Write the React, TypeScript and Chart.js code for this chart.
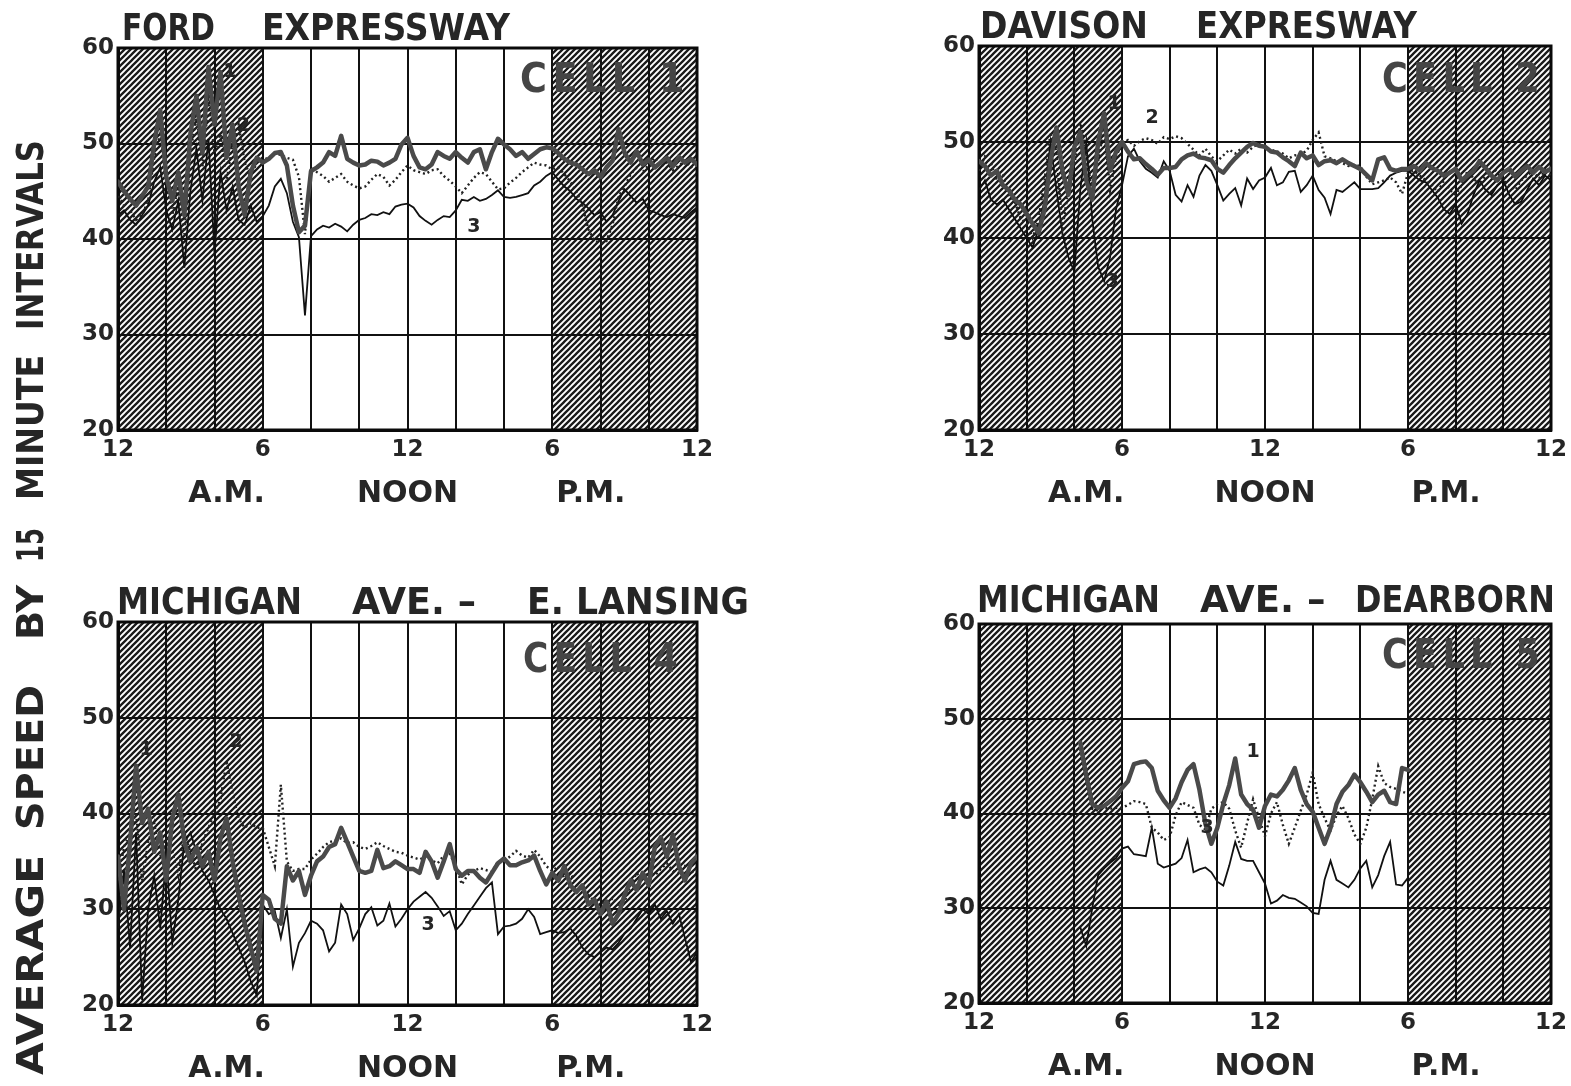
import React, { useEffect, useRef } from 'react';
import { Chart, registerables } from 'chart.js';

Chart.register(...registerables);
Chart.defaults.font.family = "'DejaVu Sans', sans-serif";

// ---------- categories / tick labels ----------
const HOURS: number[] = Array.from({ length: 97 }, (_, i) => i / 4); // 15-minute intervals, 12 A.M. -> 12 P.M.
const X_TICK_LABELS: { [h: number]: string } = { 0: '12', 6: '6', 12: '12', 18: '6', 24: '12' };
const PERIOD_LABELS = ['A.M.', 'NOON', 'P.M.'];
const PERIOD_HOURS = [4.5, 12, 19.6];
const NIGHT_SPANS: [number, number][] = [[0, 6], [18, 24]];
const Y_TITLE_WORDS = ['AVERAGE', 'SPEED', 'BY', '15', 'MINUTE', 'INTERVALS'];
const N = null;

// ---------- Cell 1 : Ford Expressway ----------
const FORD_1 = [
  46.0, 45.0, 44.2, 43.5, 44.5, 45.5, 50.0, 53.5, 46.5, 44.0, 47.0, 42.5, 51.0, 55.0, 49.0, 58.0, 52.0, 57.5, 48.5, 52.0, 45.5, 42.5, 47.0, 48.5,
  48.0, 48.4, 49.0, 49.1, 47.7, 43.5, 40.7, 41.4, 47.1, 47.5, 48.0, 49.1, 48.7, 50.8, 48.4, 48.0, 47.7, 47.8, 48.2, 48.1, 47.7, 48.0, 48.4, 49.9,
  50.6, 48.7, 47.5, 47.3, 47.8, 49.1, 48.7, 48.4, 49.1, 48.5, 48.0, 49.1, 49.4, 47.3, 49.1, 50.5, 49.9, 49.4, 48.7, 49.1, 48.4, 48.9, 49.4, 49.6,
  49.5, 49.0, 48.4, 48.0, 47.8, 47.3, 46.8, 47.2, 46.5, 47.5, 48.2, 51.5, 49.0, 48.0, 49.2, 47.8, 48.3, 47.5, 48.0, 48.5, 47.6, 48.6, 48.0, 48.4, 47.8,
];
const FORD_2 = [
  44.5, 43.5, 43.0, 42.0, 42.5, 44.0, 48.5, 51.0, 47.0, 42.5, 45.5, 40.5, 49.0, 53.0, 47.5, 54.5, 49.0, 51.0, 46.0, 50.0, 52.0, 48.0, 46.5, 48.0,
  48.3, 48.5, 49.0, 48.8, 48.5, 48.3, 46.5, 40.5, 47.5, 47.0, 46.6, 46.0, 46.4, 46.8, 46.0, 45.6, 45.3, 45.5, 46.2, 46.8, 46.5, 45.6, 46.2, 47.0,
  47.7, 47.2, 47.0, 46.8, 47.2, 47.3, 46.6, 46.1, 45.5, 44.8, 45.6, 46.4, 47.0, 46.8, 46.0, 45.2, 45.3, 45.9, 46.4, 47.0, 47.5, 48.0, 47.8, 47.7,
  47.3, 47.5, 46.8, 46.0, 45.0, 43.5, 41.0, 39.8, 39.6, 39.8, 41.5, 44.5, 45.5, 46.8, 47.5, 47.0, 47.8, 48.5, 47.6, 48.0, 47.2, 47.7, 48.2, 47.5, 48.0,
];
const FORD_3 = [
  42.5, 43.0, 42.0, 41.5, 42.5, 43.5, 46.0, 47.5, 43.0, 41.0, 44.0, 37.0, 45.0, 49.5, 44.0, 50.5, 38.5, 47.0, 43.0, 45.5, 42.0, 41.5, 43.5, 41.8,
  42.4, 43.5, 45.5, 46.3, 44.8, 41.8, 40.2, 32.0, 40.3, 41.0, 41.4, 41.2, 41.6, 41.3, 40.8, 41.5, 42.0, 42.2, 42.6, 42.5, 42.8, 42.6, 43.4, 43.6,
  43.7, 43.3, 42.4, 41.9, 41.5, 42.0, 42.4, 42.3, 43.0, 44.1, 44.0, 44.4, 44.0, 44.2, 44.6, 45.1, 44.4, 44.3, 44.4, 44.6, 44.8, 45.6, 46.0, 46.6,
  47.0, 46.2, 45.5, 45.0, 44.2, 43.8, 43.2, 42.5, 42.8, 41.8, 42.5, 44.0, 45.2, 44.5, 43.8, 44.2, 43.0, 42.8, 42.5, 42.3, 42.6, 42.4, 42.2, 42.8, 43.3,
];

// ---------- Cell 2 : Davison Expressway ----------
const DAVISON_1 = [
  48.0, 47.5, 46.5, 47.0, 45.5, 45.0, 44.0, 43.5, 42.5, 41.5, 40.5, 43.0, 48.0, 51.5, 47.0, 44.5, 49.5, 51.0, 46.0, 44.0, 50.0, 53.0, 47.0, 49.0,
  50.0, 49.0, 48.2, 48.3, 47.7, 47.2, 46.6, 47.3, 47.3, 47.4, 48.2, 48.6, 48.8, 48.4, 48.3, 48.1, 47.2, 46.8, 47.6, 48.3, 48.9, 49.5, 49.9, 49.6,
  49.5, 49.0, 48.9, 48.4, 48.0, 47.5, 48.9, 48.3, 48.6, 47.6, 48.0, 48.1, 47.8, 48.2, 47.8, 47.5, 47.2, 46.6, 46.0, 48.2, 48.4, 47.2, 47.0, 47.2,
  47.2, 47.5, 47.0, 47.8, 47.3, 47.0, 46.5, 46.8, 47.2, 46.0, 46.5, 47.0, 48.0, 47.3, 46.5, 46.0, 46.8, 47.2, 46.4, 47.0, 47.5, 46.8, 47.4, 46.9, 47.2,
];
const DAVISON_2 = [
  47.0, 48.5, 47.8, 46.0, 46.5, 44.5, 43.8, 42.0, 41.5, 40.0, 42.0, 46.0, 51.0, 49.0, 41.0, 45.0, 47.5, 52.0, 49.0, 44.5, 48.0, 51.5, 45.0, 48.5,
  49.8, 50.2, 49.6, 50.1, 50.4, 50.2, 49.8, 50.5, 50.3, 50.6, 50.4, 49.8, 49.2, 48.6, 49.3, 48.5, 48.0, 48.6, 49.2, 48.8, 49.3, 48.9, 49.5, 49.8,
  49.4, 49.2, 49.0, 48.8, 48.3, 48.6, 48.7, 49.1, 50.2, 51.0, 48.5, 48.3, 48.0, 47.8, 47.5, 47.6, 47.5, 46.4, 45.6, 45.8, 46.0, 46.3, 45.8, 44.6,
  46.8, 47.0, 46.5, 46.0, 45.5, 44.8, 46.0, 45.0, 44.5, 45.5, 47.0, 46.2, 45.5, 46.5, 47.5, 46.8, 46.0, 45.5, 45.0, 46.0, 46.5, 47.0, 46.2, 47.0, 46.5,
];
const DAVISON_3 = [
  45.0, 46.0, 44.0, 43.5, 44.0, 43.0, 42.0, 41.0, 40.0, 39.0, 41.0, 44.0, 50.0, 45.0, 40.5, 38.0, 36.5, 45.0, 50.0, 42.0, 37.0, 35.5, 38.0, 43.0,
  45.5, 48.5, 49.3, 48.0, 47.2, 46.8, 46.3, 48.0, 47.0, 44.5, 43.8, 45.5, 44.3, 46.5, 47.6, 47.0, 45.5, 43.9, 44.6, 45.2, 43.4, 46.2, 45.1, 46.0,
  46.3, 47.3, 45.5, 45.8, 46.9, 47.0, 44.8, 45.5, 46.5, 45.0, 44.2, 42.5, 45.0, 44.8, 45.3, 45.8, 45.1, 45.1, 45.1, 45.2, 45.8, 46.5, 46.8, 47.0,
  47.0, 46.5, 46.0, 45.8, 45.0, 44.2, 43.0, 42.5, 43.5, 41.5, 42.5, 44.5, 46.0, 45.0, 44.5, 45.5, 46.0, 44.5, 43.5, 43.8, 45.0, 46.2, 45.5, 46.5, 46.0,
];

// ---------- Cell 4 : Michigan Ave. - E. Lansing ----------
const LANSING_1 = [
  35.5, 30.0, 37.0, 45.0, 39.0, 40.5, 36.0, 38.0, 33.0, 39.5, 42.0, 37.0, 35.0, 36.5, 34.5, 36.0, 33.0, 37.5, 39.5, 35.0, 31.5, 28.5, 26.0, 23.5,
  31.5, 31.0, 29.0, 28.5, 34.5, 33.0, 34.0, 31.5, 33.5, 35.0, 35.5, 36.5, 36.8, 38.5, 37.0, 35.5, 34.0, 33.8, 34.0, 36.2, 34.3, 34.5, 35.0, 34.6,
  34.2, 34.2, 33.8, 36.0, 35.0, 33.3, 35.0, 36.8, 34.2, 33.5, 34.0, 34.0, 33.3, 32.8, 33.8, 34.8, 35.3, 34.6, 34.6, 34.9, 35.1, 35.6, 34.0, 32.6,
  33.8, 33.0, 34.5, 32.5, 31.8, 32.5, 30.5, 31.0, 29.5, 30.8, 28.5, 29.5, 31.5, 33.0, 32.0, 33.8, 32.5, 36.5, 37.5, 35.5, 37.8, 34.5, 33.0, 34.8, 35.5,
];
const LANSING_2 = [
  33.0, 36.5, 38.0, 40.0, 33.0, 37.0, 39.0, 35.5, 37.5, 36.0, 33.5, 38.0, 36.0, 34.0, 37.0, 38.5, 40.0, 41.5, 45.5, 42.0, 39.5, 38.5, 39.0, 38.5,
  38.5, 36.5, 34.5, 43.0, 35.0, 34.0, 34.2, 34.2, 35.2, 35.8, 36.5, 37.0, 37.2, 37.4, 36.9, 37.0, 36.5, 36.3, 36.6, 37.0, 36.6, 36.3, 36.0, 35.9,
  35.6, 35.4, 35.2, 35.5, 35.1, 34.8, 35.6, 35.8, 34.5, 32.6, 33.6, 34.0, 34.3, 34.1, 33.9, 35.0, 35.1, 35.5, 36.1, 35.6, 35.4, 36.2, 35.5, 34.5,
  34.0, 34.5, 33.2, 33.8, 32.6, 32.0, 31.5, 30.8, 31.0, 30.2, 31.2, 30.5, 30.8, 32.5, 33.8, 33.0, 34.0, 33.5, 34.2, 34.8, 34.0, 33.8, 34.5, 33.8, 34.2,
];
const LANSING_3 = [
  28.0, 34.0, 26.0, 38.0, 20.5, 30.0, 33.5, 28.0, 35.5, 26.5, 31.0, 37.0, 38.0, 36.0, 34.0, 33.0, 31.5, 30.0, 29.0, 27.5, 26.0, 24.5, 22.5, 21.0,
  30.5, 29.5, 29.8, 27.0, 30.0, 24.0, 26.5, 27.5, 28.8, 28.5, 27.8, 25.6, 26.5, 30.5, 29.5, 26.8, 28.0, 29.5, 30.2, 28.3, 28.8, 30.6, 28.2, 29.0,
  30.0, 30.8, 31.3, 31.8, 31.2, 30.3, 29.3, 29.8, 27.8, 28.5, 29.5, 30.4, 31.3, 32.2, 32.8, 27.4, 28.2, 28.3, 28.5, 29.0, 30.0, 29.2, 27.4, 27.6,
  27.8, 27.5, 27.6, 28.0, 27.2, 26.0, 25.3, 25.0, 25.5, 26.0, 25.8, 26.5, 27.5, 28.0, 29.0, 30.0, 29.5, 30.5, 29.0, 29.8, 28.5, 29.5, 27.0, 24.5, 25.5,
];

// ---------- Cell 5 : Michigan Ave. - Dearborn ----------
const DEARBORN_1 = [
  N, N, N, N, N, N, N, N, N, N, N, N, N, N, N, N, N, 47.5, 44.0, 41.0, 40.6, 40.8, 41.3, 41.8,
  42.7, 43.4, 45.2, 45.4, 45.5, 44.8, 42.4, 41.4, 40.6, 41.6, 43.3, 44.6, 45.2, 42.5, 38.9, 36.8, 38.5, 41.0, 43.0, 45.8, 42.0, 41.0, 40.4, 38.5,
  40.8, 42.0, 41.8, 42.5, 43.5, 44.8, 42.5, 41.0, 40.2, 38.5, 36.8, 38.5, 41.0, 42.3, 43.0, 44.1, 43.3, 42.3, 41.2, 42.0, 42.4, 41.2, 41.0, 44.8,
  44.6, N, N, N, N, N, N, N, N, N, N, N, N, N, N, N, N, N, N, N, N, N, N, N, N,
];
const DEARBORN_2 = [
  N, N, N, N, N, N, N, N, N, N, N, N, N, N, N, N, N, 46.8, 44.0, 40.5, 40.3, 40.6, 40.5, 40.6,
  40.6, 40.9, 41.3, 41.2, 41.0, 38.5, 38.0, 37.2, 37.5, 39.8, 41.2, 40.9, 40.6, 38.8, 38.3, 40.5, 41.0, 41.2, 40.5, 38.2, 36.4, 39.0, 41.5, 39.5,
  37.6, 40.0, 41.2, 38.8, 36.8, 38.5, 40.3, 42.0, 44.3, 41.0, 39.5, 38.2, 39.8, 40.8, 39.5, 37.8, 36.8, 38.5, 41.5, 45.0, 43.2, 42.8, 42.6, 42.3,
  42.1, N, N, N, N, N, N, N, N, N, N, N, N, N, N, N, N, N, N, N, N, N, N, N, N,
];
const DEARBORN_3 = [
  N, N, N, N, N, N, N, N, N, N, N, N, N, N, N, N, N, 28.0, 26.0, 30.0, 33.5, 34.2, 34.8, 35.3,
  36.3, 36.5, 35.7, 35.6, 35.5, 38.5, 34.7, 34.3, 34.5, 34.7, 35.3, 37.2, 33.8, 34.1, 34.3, 33.8, 32.8, 32.4, 34.5, 37.0, 35.2, 35.0, 35.0, 33.8,
  32.6, 30.5, 30.8, 31.4, 31.1, 31.0, 30.6, 30.2, 29.5, 29.4, 33.0, 35.0, 33.0, 32.6, 32.2, 33.0, 34.2, 35.0, 32.2, 33.5, 35.5, 37.0, 32.5, 32.4,
  33.2, N, N, N, N, N, N, N, N, N, N, N, N, N, N, N, N, N, N, N, N, N, N, N, N,
];

// ---------- layout / styling ----------
const SERIES_STYLES = [
  { borderColor: '#4a4a4a', borderWidth: 4.5, borderJoinStyle: 'round', borderCapStyle: 'round' },
  { borderColor: '#222222', borderWidth: 2.4, borderDash: [2, 3] },
  { borderColor: '#111111', borderWidth: 1.8 },
];
const TEXT_COLOR = '#262626';
const Y_TITLE_X = 31;
// vertical extent (page y, bottom..top) of each word of the rotated axis title
const Y_TITLE_SPANS: [number, number][] = [[1075, 855], [830, 685], [640, 585], [562, 528], [500, 355], [330, 140]];

interface PanelCfg {
  key: string;
  plot: { left: number; top: number; width: number; height: number };
  padRight: number;
  titles: [string, number, number][]; // text, dx from plot left, width
  titleDy: number;
  cell: [string, number, number, number]; // text, dx, baseline dy, width
  series: (number | null)[][];
  marks: [string, number, number][]; // text, hour, mph
}

const PANELS: PanelCfg[] = [
  {
    key: 'ford',
    plot: { left: 118, top: 48, width: 579, height: 382 },
    padRight: 65,
    titles: [['FORD', 4, 93], ['EXPRESSWAY', 144, 248]],
    titleDy: -8,
    cell: ['CELL 1', 402, 44, 170],
    series: [FORD_1, FORD_2, FORD_3],
    marks: [['1', 4.64, 57.5], ['2', 5.2, 51.8], ['3', 14.75, 41.3]],
  },
  {
    key: 'davison',
    plot: { left: 979, top: 46, width: 572, height: 384 },
    padRight: 24,
    titles: [['DAVISON', 1, 168], ['EXPRESWAY', 217, 221]],
    titleDy: -8,
    cell: ['CELL 2', 403, 46, 163],
    series: [DAVISON_1, DAVISON_2, DAVISON_3],
    marks: [['1', 5.67, 53.9], ['2', 7.26, 52.5], ['3', 5.6, 35.4]],
  },
  {
    key: 'lansing',
    plot: { left: 118, top: 622, width: 579, height: 383 },
    padRight: 65,
    titles: [['MICHIGAN', -1, 185], ['AVE. \u2013', 234, 124], ['E. LANSING', 409, 222]],
    titleDy: -8,
    cell: ['CELL 4', 405, 50, 160],
    series: [LANSING_1, LANSING_2, LANSING_3],
    marks: [['1', 1.17, 46.6], ['2', 4.9, 47.5], ['3', 12.85, 28.4]],
  },
  {
    key: 'dearborn',
    plot: { left: 979, top: 624, width: 572, height: 379 },
    padRight: 24,
    titles: [['MICHIGAN', -2, 183], ['AVE. \u2013', 221, 130], ['DEARBORN', 376, 200]],
    titleDy: -12,
    cell: ['CELL 5', 403, 44, 163],
    series: [DEARBORN_1, DEARBORN_2, DEARBORN_3],
    marks: [['1', 11.5, 46.5], ['3', 9.57, 38.5]],
  },
];

const Y_AXIS_W = 60;
const PAD_LEFT = 10;
const X_AXIS_H = 78;

function makeHatch(): CanvasPattern | string {
  const s = 6;
  const c = document.createElement('canvas');
  c.width = s;
  c.height = s;
  const g = c.getContext('2d');
  if (!g) return '#888';
  g.fillStyle = '#ffffff';
  g.fillRect(0, 0, s, s);
  g.strokeStyle = '#1a1a1a';
  g.lineWidth = 2.3;
  g.beginPath();
  g.moveTo(-1, s + 1);
  g.lineTo(s + 1, -1);
  g.moveTo(-1, 1);
  g.lineTo(1, -1);
  g.moveTo(s - 1, s + 1);
  g.lineTo(s + 1, s - 1);
  g.stroke();
  const pat = g.createPattern(c, 'repeat');
  return pat || '#888';
}

function Panel({ cfg }: { cfg: PanelCfg }) {
  const ref = useRef<HTMLCanvasElement | null>(null);
  const padT = Math.min(48, cfg.plot.top);
  const cLeft = cfg.plot.left - Y_AXIS_W - PAD_LEFT;
  const cTop = cfg.plot.top - padT;
  const cW = Y_AXIS_W + PAD_LEFT + cfg.plot.width + cfg.padRight;
  const cH = padT + cfg.plot.height + X_AXIS_H;

  useEffect(() => {
    const canvas = ref.current;
    if (!canvas) return;
    const hatch = makeHatch();

    const decor = {
      id: 'decor_' + cfg.key,
      beforeDraw(chart: any) {
        const { ctx, chartArea: a } = chart;
        const x = chart.scales.x;
        ctx.save();
        ctx.fillStyle = '#ffffff';
        ctx.fillRect(0, 0, chart.width, chart.height);
        ctx.fillStyle = hatch;
        for (const [h0, h1] of NIGHT_SPANS) {
          const x0 = x.getPixelForValue(h0);
          const x1 = x.getPixelForValue(h1);
          ctx.fillRect(x0, a.top, x1 - x0, a.bottom - a.top);
        }
        ctx.restore();
      },
      beforeDatasetsDraw(chart: any) {
        const { ctx, chartArea: a } = chart;
        ctx.save();
        ctx.strokeStyle = '#0a0a0a';
        ctx.lineWidth = 3;
        ctx.strokeRect(a.left, a.top, a.right - a.left, a.bottom - a.top);
        ctx.restore();
      },
      afterDraw(chart: any) {
        const { ctx, chartArea: a } = chart;
        const x = chart.scales.x;
        const y = chart.scales.y;
        ctx.save();
        ctx.fillStyle = TEXT_COLOR;
        ctx.textBaseline = 'alphabetic';
        ctx.textAlign = 'left';
        // panel title
        ctx.font = "bold 37px 'DejaVu Sans'";
        for (const [t, dx, w] of cfg.titles) {
          ctx.fillText(t, a.left + dx, a.top + cfg.titleDy, w);
        }
        // cell label
        const [ct, cdx, cdy, cw] = cfg.cell;
        ctx.font = "bold 40px 'DejaVu Sans'";
        (ctx as any).letterSpacing = '6px';
        ctx.fillStyle = '#454545';
        ctx.fillText(ct, a.left + cdx, a.top + cdy, cw);
        (ctx as any).letterSpacing = '0px';
        // period labels
        ctx.fillStyle = TEXT_COLOR;
        ctx.font = "bold 30px 'DejaVu Sans'";
        ctx.textAlign = 'center';
        PERIOD_LABELS.forEach((lab, i) => {
          ctx.fillText(lab, x.getPixelForValue(PERIOD_HOURS[i]), a.bottom + 72);
        });
        // series numbers
        ctx.font = "bold 19px 'DejaVu Sans'";
        ctx.textBaseline = 'middle';
        for (const [t, h, v] of cfg.marks) {
          ctx.fillText(t, x.getPixelForValue(h), y.getPixelForValue(v));
        }
        ctx.restore();
      },
    };

    const chart = new Chart(canvas, {
      type: 'line',
      data: {
        datasets: cfg.series.map((vals, si) => ({
          label: 'Series ' + (si + 1),
          data: HOURS.map((h, i) => ({ x: h, y: vals[i] })),
          pointRadius: 0,
          fill: false,
          tension: 0,
          spanGaps: false,
          ...(SERIES_STYLES[si] as any),
        })),
      },
      options: {
        responsive: false,
        animation: false,
        devicePixelRatio: 1,
        layout: { padding: { left: PAD_LEFT, top: padT, right: cfg.padRight, bottom: 0 } },
        plugins: { legend: { display: false }, tooltip: { enabled: false }, title: { display: false } },
        scales: {
          x: {
            type: 'linear',
            min: 0,
            max: 24,
            afterFit: (s: any) => { s.height = X_AXIS_H; },
            ticks: {
              stepSize: 2,
              autoSkip: false,
              maxRotation: 0,
              padding: 6,
              color: TEXT_COLOR,
              font: { size: 23, weight: 'bold' },
              callback: (v: any) => X_TICK_LABELS[v as number] ?? '',
            },
            grid: { color: '#111111', lineWidth: 2, drawTicks: false },
            border: { display: true, color: '#0a0a0a', width: 3 },
          },
          y: {
            type: 'linear',
            min: 20,
            max: 60,
            afterFit: (s: any) => { s.width = Y_AXIS_W; },
            ticks: {
              stepSize: 10,
              padding: 4,
              color: TEXT_COLOR,
              font: { size: 23, weight: 'bold' },
            },
            grid: { color: '#111111', lineWidth: 2, drawTicks: false },
            border: { display: true, color: '#0a0a0a', width: 3 },
          },
        },
      } as any,
      plugins: [decor],
    });
    return () => chart.destroy();
  }, []);

  return (
    <canvas
      ref={ref}
      width={cW}
      height={cH}
      style={{ position: 'absolute', left: cLeft, top: cTop, width: cW, height: cH }}
    />
  );
}

function YTitle() {
  const ref = useRef<HTMLCanvasElement | null>(null);
  useEffect(() => {
    const c = ref.current;
    if (!c) return;
    const ctx = c.getContext('2d');
    if (!ctx) return;
    ctx.clearRect(0, 0, c.width, c.height);
    ctx.fillStyle = TEXT_COLOR;
    ctx.font = "bold 38px 'DejaVu Sans'";
    ctx.textAlign = 'center';
    ctx.textBaseline = 'middle';
    Y_TITLE_WORDS.forEach((w, i) => {
      const [yb, yt] = Y_TITLE_SPANS[i];
      const len = yb - yt;
      const natural = ctx.measureText(w).width;
      ctx.save();
      ctx.translate(Y_TITLE_X, (yb + yt) / 2);
      ctx.rotate(-Math.PI / 2);
      ctx.scale(len / natural, 1);
      ctx.fillText(w, 0, 2);
      ctx.restore();
    });
  }, []);
  return (
    <canvas ref={ref} width={62} height={1085} style={{ position: 'absolute', left: 0, top: 0, width: 62, height: 1085 }} />
  );
}

export default function App() {
  return (
    <div style={{ position: 'absolute', left: 0, top: 0, width: 1570, height: 1085, overflow: 'hidden', background: '#ffffff' }}>
      {PANELS.map((p) => (
        <Panel key={p.key} cfg={p} />
      ))}
      <YTitle />
    </div>
  );
}
